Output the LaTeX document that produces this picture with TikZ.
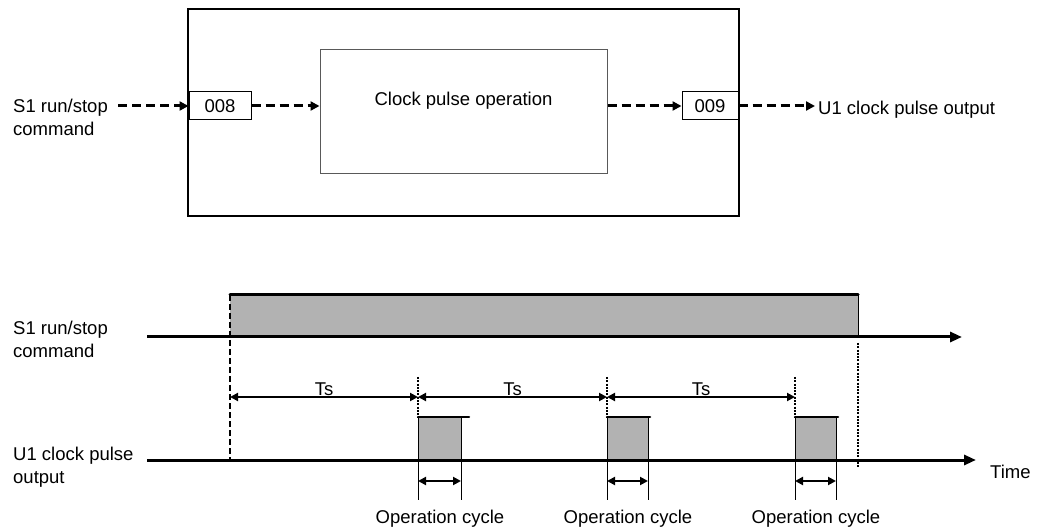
\documentclass[tikz,border=0pt]{standalone}
\usepackage{fontspec}
\setmainfont{Liberation Sans}
\usetikzlibrary{positioning, arrows.meta, calc}

\begin{document}
\begin{tikzpicture}[
    x=1pt, y=-1pt,
    font=\fontsize{18.5}{23}\selectfont,
    every node/.style={inner sep=0pt},
    block/.style={draw, line width=1pt},
    flow/.style={-{Triangle[length=9pt,width=9pt]}, dash pattern=on 9pt off 5pt, line width=3pt},
    timeaxis/.style={-{Triangle[length=12pt,width=10pt]}, line width=3pt},
    span/.style={{Triangle[length=8pt,width=8pt]}-{Triangle[length=8pt,width=8pt]}, line width=2pt},
    guide/.style={line width=1.2pt, dash pattern=on 2pt off 1.3pt},
    level/.style={line width=3pt, line cap=round},
    edge/.style={line width=1pt}
]
    \useasboundingbox (0,0) rectangle (1042,529);

    % Function block
    \node[block, line width=2pt, minimum width=551pt, minimum height=207pt] (fb) at (463.5,112.5) {};
    \node[block, draw=black!65, minimum width=287pt, minimum height=124pt] (op) at (463.5,112) {};
    \node at (463.5,101) {Clock pulse operation};
    \node[block, minimum width=62pt, minimum height=28pt] (in008) at (220,106) {008};
    \node[block, minimum width=56pt, minimum height=28pt] (out009) at (710,106) {009};

    \node[anchor=base west, align=left] (s1top) at (13,136) {S1 run/stop\\command};
    \node[anchor=base west] (u1top) at (818,115) {U1 clock pulse output};
    \coordinate (s1in) at (118,106);
    \coordinate (u1out) at (815,106);

    \draw[flow] (s1in) -- (in008.west);
    \draw[flow] (in008.east) -- (in008.east -| op.west);
    \draw[flow] (op.east |- out009) -- (out009.west);
    \draw[flow] (out009.east) -- (u1out);

    % Timing chart
    \coordinate (on) at (230,337);
    \coordinate (off) at (858,337);
    \fill[black!30] (230,295) rectangle (off);
    \fill[black!30] (418,417) rectangle (461,460);
    \fill[black!30] (607,417) rectangle (648,460);
    \fill[black!30] (795,417) rectangle (836,460);

    \node[anchor=base west, align=left] (s1lbl) at (13,358) {S1 run/stop\\command};
    \node[anchor=base west, align=left] (u1lbl) at (13,483) {U1 clock pulse\\output};
    \node[anchor=base west] (time) at (990,478) {Time};

    \draw[timeaxis] (147,337) -- (962,337);
    \draw[timeaxis] (147,460) -- (976,460);

    % run/stop level
    \draw[level] (230,295) -- (858,295);
    \draw[edge] (858,295) -- (off);
    \draw[line width=2pt, dash pattern=on 6pt off 3pt] (230,295) -- (230,460);
    \draw[guide] (858,343) -- (858,467);

    % pulses
    \draw[edge] (418,460) -- (418,417) (461,417) -- (461,460);
    \draw[edge] (607,460) -- (607,417) (648,417) -- (648,460);
    \draw[edge] (795,460) -- (795,417) (836,417) -- (836,460);
    \draw[level, line width=2.5pt] (418,417) -- (469,417);
    \draw[level, line width=2.5pt] (607,417) -- (650,417);
    \draw[level, line width=2.5pt] (795,417) -- (838,417);
    \draw[guide] (418,377) -- (418,417);
    \draw[guide] (607,377) -- (607,417);
    \draw[guide] (795,377) -- (795,417);

    % Ts
    \coordinate (ts0) at (230,397);
    \coordinate (ts1) at (418,397);
    \coordinate (ts2) at (607,397);
    \coordinate (ts3) at (795,397);
    \draw[span] (ts0) -- node[above] {Ts} (ts1);
    \draw[span] (ts1) -- node[above] {Ts} (ts2);
    \draw[span] (ts2) -- node[above] {Ts} (ts3);

    % Operation cycle
    \draw[edge] (418,460) -- (418,500) (461,460) -- (461,500);
    \draw[edge] (607,460) -- (607,500) (648,460) -- (648,500);
    \draw[edge] (795,460) -- (795,500) (836,460) -- (836,500);
    \coordinate (oc1a) at (418,481);
    \coordinate (oc1b) at (461,481);
    \coordinate (oc2a) at (607,481);
    \coordinate (oc2b) at (648,481);
    \coordinate (oc3a) at (795,481);
    \coordinate (oc3b) at (836,481);
    \draw[span] (oc1a) -- (oc1b);
    \draw[span] (oc2a) -- (oc2b);
    \draw[span] (oc3a) -- (oc3b);
    \node[anchor=base] (oc1) at (440,523) {Operation cycle};
    \node[anchor=base] (oc2) at (628,523) {Operation cycle};
    \node[anchor=base] (oc3) at (816,523) {Operation cycle};

\end{tikzpicture}
\end{document}
